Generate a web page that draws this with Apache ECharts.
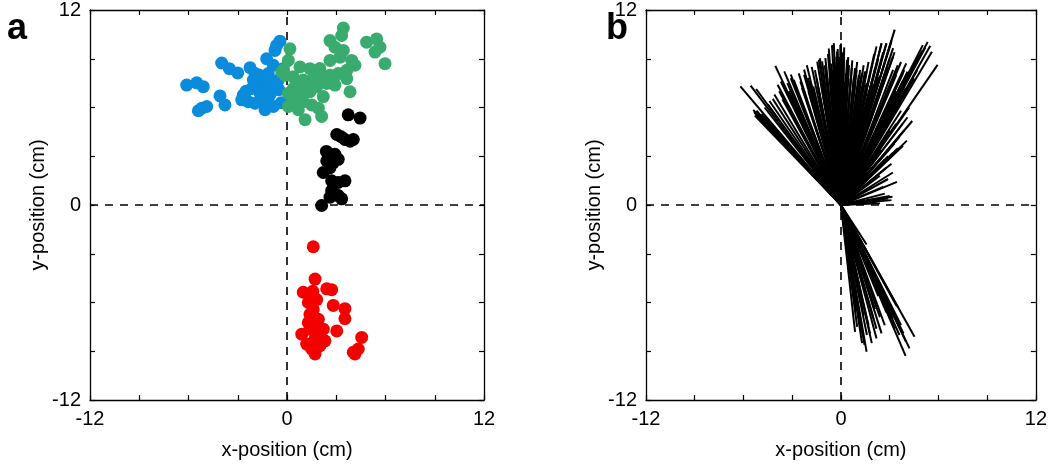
<!DOCTYPE html>
<html>
<head>
<meta charset="utf-8">
<script src="https://cdn.jsdelivr.net/npm/echarts@6/dist/echarts.min.js"></script>
<style>
html,body{margin:0;padding:0;background:#fff;}
#chart{width:1050px;height:465px;}
</style>
</head>
<body>
<div id="chart"></div>
<script>
// ---------- DATA ----------
const tickLabelValues = [-12, 0, 12];
const panelLabels = ['a', 'b'];
const xTitle = 'x-position (cm)';
const yTitle = 'y-position (cm)';

const bluePts = [
  [-6.11,7.38],[-5.50,7.52],[-5.10,7.28],[-3.98,8.74],[-3.51,8.39],[-3.00,8.13],
  [-5.19,5.96],[-4.89,6.06],[-5.40,5.80],[-4.08,6.71],[-3.78,6.16],[-2.25,8.45],[-1.95,8.09],
  [-2.66,6.77],[-2.76,6.47],[-2.36,6.36],[-1.95,6.26],[-1.85,7.28],[-1.44,7.69],
  [-1.14,8.09],[-1.24,9.00],[-0.73,9.51],[-0.43,10.08],[-0.63,9.82],[-0.83,8.60],
  [-0.53,7.69],[-1.04,6.77],[-1.34,5.86],[-0.83,6.06],[-1.44,6.47],[-1.64,6.87],
  [-2.15,7.17],[-0.93,7.48],[-0.23,8.39],[-2.05,7.69],[-2.50,7.00],[-1.70,8.00],
  [-0.35,6.30],[-0.50,7.10],[-1.20,7.20]
];
const greenPts = [
  [3.43,10.89],[3.33,10.43],[2.62,10.12],[2.92,9.71],[3.43,9.51],[3.23,9.10],
  [2.62,8.90],[3.94,8.90],[4.14,8.60],[4.85,10.02],[5.46,10.22],[5.66,9.71],
  [5.36,9.41],[5.97,8.70],[0.18,9.61],[0.79,8.50],[1.40,8.39],[1.81,8.19],
  [0.38,7.89],[-0.23,8.29],[0.99,7.69],[1.60,7.78],[2.21,7.78],[2.62,7.99],
  [3.12,8.09],[3.64,8.29],[2.92,7.38],[2.42,7.48],[3.64,7.78],[0.38,7.17],
  [0.79,6.87],[1.40,6.97],[1.81,7.28],[3.84,6.97],[0.38,6.47],[0.99,6.36],
  [0.08,6.06],[0.69,5.86],[1.50,6.16],[1.91,5.96],[1.10,5.25],[2.11,5.45],
  [0.08,6.87],[2.21,6.67],[2.82,7.58],[-0.12,7.99],[0.08,8.90],[-0.32,8.19],
  [1.20,7.30],[0.60,7.50],[2.00,8.40]
];
const blackPts = [
  [3.73,5.55],[4.45,5.35],[3.03,4.34],[3.53,4.03],[4.04,4.03],[3.84,3.93],
  [2.92,3.12],[2.42,2.71],[2.82,2.61],[3.12,2.81],[2.21,2.00],[2.72,1.49],
  [3.12,1.39],[3.53,1.49],[2.72,0.88],[3.12,0.58],[2.62,0.48],[2.11,-0.03],
  [3.33,0.38],[2.52,2.91],[2.62,2.30],[2.40,3.30],[3.30,4.20]
];
const redPts = [
  [1.60,-2.57],[1.71,-4.56],[0.99,-5.37],[1.57,-5.31],[2.42,-5.16],[2.72,-5.21],
  [1.50,-6.12],[2.82,-6.18],[3.53,-6.38],[3.53,-6.99],[1.40,-6.73],[1.91,-7.03],
  [2.21,-7.64],[3.03,-7.75],[0.90,-7.95],[1.40,-7.64],[1.71,-8.25],[2.31,-8.36],
  [1.50,-8.86],[1.71,-9.17],[2.01,-8.66],[4.55,-8.15],[4.04,-9.06],[4.34,-8.86],
  [4.14,-9.17],[1.30,-7.24],[1.60,-6.43],[1.20,-8.56],[1.81,-5.82],[1.50,-7.40],
  [1.80,-7.90],[1.30,-6.00]
];
// Panel b: vector end points (each drawn from the origin)
const vectorEnds = [
  [-6.19,7.30],[-5.56,7.34],[-5.22,7.14],[-5.32,5.68],[-5.35,5.75],[-5.25,5.60],[-5.10,5.55],
  [-5.20,5.80],[-5.00,5.50],[-4.90,5.60],[-5.40,5.85],[-5.30,5.50],[-5.15,5.70],
  [-4.20,6.53],[-4.04,8.56],[-3.49,8.22],[-3.09,7.81],
  [-2.27,8.01],[-2.03,7.81],[-1.46,8.82],[-1.30,9.03],[-0.75,9.63],[-0.55,9.84],
  [-0.28,9.13],[0.00,9.94],[0.16,8.92],[0.37,8.42],[0.87,8.42],[1.18,8.32],[1.48,8.22],
  [1.58,7.51],[1.79,7.10],[2.50,9.94],[2.80,9.94],[3.11,10.14],[3.31,10.79],[3.21,9.13],
  [3.21,8.32],[3.82,8.11],[4.02,8.72],[5.04,9.84],[5.34,10.04],[5.60,9.43],[5.95,8.62],
  [4.39,5.17],[4.06,3.96],[3.82,3.65],[3.11,2.54],[3.45,1.42],[3.17,0.51],[3.11,0.30],
  [2.60,1.12],[2.19,0.20],[2.90,0.40],[2.40,0.10],[2.70,0.70],[3.00,0.55],[2.50,0.35],
  [-3.09,8.03],[-2.27,8.33],[-1.36,8.94],[-1.16,8.84],[-0.96,9.04],[-0.44,9.96],
  [-0.24,9.45],[-0.04,9.85],[0.16,9.35],[0.37,8.94],[0.67,8.43],[0.97,8.33],[1.28,8.13],
  [1.58,8.23],[1.78,8.03],[2.19,9.76],[2.50,9.96],[2.80,9.96],[3.11,10.06],[3.21,9.65],
  [-4.50,6.20],[-3.80,7.00],[-3.60,6.50],[-2.80,7.20],[-2.50,7.60],[-2.00,7.00],[-1.80,8.50],
  [-1.70,7.30],[-1.20,7.50],[-0.90,8.00],[-0.60,8.70],[-0.50,8.30],[-0.10,9.10],[0.10,9.40],
  [0.30,8.10],[0.50,8.60],[0.60,7.80],[0.90,7.60],[1.10,8.00],[1.30,7.30],[1.90,7.60],
  [2.10,8.40],[2.30,9.00],[2.60,9.40],[2.70,8.00],[3.00,9.00],[3.30,9.40],[3.50,8.60],
  [3.70,8.80],[3.90,8.30],[4.20,7.90],[4.40,8.50],[4.60,8.90],[4.80,9.20],[5.00,9.50],
  [5.20,9.70],[5.50,9.80],[4.00,7.20],[3.60,6.40],[3.20,5.60],[4.20,6.00],[3.90,4.60],
  [3.60,4.20],[3.30,3.80],[2.90,3.00],[2.70,2.80],
  [-4.70,6.00],[-4.40,6.40],[-4.10,6.80],[-3.90,7.40],[-3.70,7.60],[-3.30,7.50],[-3.20,7.00],
  [-3.00,6.80],[-2.90,7.70],[-2.60,8.10],[-2.40,7.20],[-2.10,8.60],[-1.90,7.60],[-1.60,8.30],
  [-1.50,7.80],[-1.40,7.20],[-1.00,8.60],[-0.80,9.30],[-0.70,7.80],[-0.40,8.80],[-0.30,8.00],
  [-0.20,9.60],[0.05,8.50],[0.20,9.70],[0.25,7.60],[0.45,9.10],[0.70,8.90],[0.80,7.90],
  [1.00,8.80],[1.20,7.70],[1.40,8.60],[1.60,7.00],[1.70,8.80],[2.00,7.40],[2.05,9.30],
  [2.30,7.90],[2.45,8.70],[2.90,8.50],[3.10,7.60],[3.40,8.00],[3.40,7.00],[3.80,7.60],
  [4.10,8.20],[4.50,7.80],[4.70,8.30],[3.70,5.80],[3.40,5.00],[3.00,4.60],[4.10,5.40],
  [3.80,5.00],[3.50,3.50],[3.20,3.20],[2.50,3.40],[2.80,2.30],[3.20,2.00],[2.90,1.60],
  [2.40,1.80],[2.20,2.60],[1.90,3.40],
  [1.58,-2.43],[0.87,-7.81],[1.58,-9.03],[2.19,-8.22],[2.19,-7.61],[3.51,-6.29],
  [3.98,-9.29],[4.22,-8.82],[4.53,-8.11],[3.41,-6.19],[1.18,-7.20],[1.79,-7.91],[3.00,-6.10],
  [1.00,-7.50],[1.30,-8.50],[1.60,-8.00],[1.90,-8.50],[2.00,-7.00],[2.50,-7.90],[2.70,-7.40],
  [3.20,-7.00],[3.70,-7.40],[4.00,-8.40],[1.10,-3.00],
  [1.40,-6.80],[1.70,-7.40],[2.10,-6.40],[2.40,-6.90],[2.80,-6.60],[3.10,-6.70],[3.30,-7.60],
  [3.60,-8.00],[3.85,-7.90],[1.20,-6.00],[1.50,-5.50],[2.30,-5.60],[2.60,-5.80],[0.95,-6.50],
  [1.25,-7.90],[1.45,-8.60]
];

// ---------- CHART ----------
const chart = echarts.init(document.getElementById('chart'));
const FONT = 'Liberation Sans, Arial, sans-serif';
const gridW = 394, gridH = 394, gridTop = 7.5;
const grids = [
  {left: 90, top: gridTop, width: gridW, height: gridH},
  {left: 646, top: gridTop, width: gridW, height: gridH}
];
const lbl = v => (tickLabelValues.indexOf(v) >= 0 ? String(v) : '');

function axisBase(type, gi, pos, withLabel) {
  const a = {
    type: 'value', gridIndex: gi, position: pos, min: -12, max: 12, interval: 3,
    axisLine: {show: true, onZero: false, lineStyle: {color: '#000', width: 1.3}},
    axisTick: {show: true, inside: true, length: 5, lineStyle: {color: '#000', width: 1.2}},
    splitLine: {show: false},
    axisLabel: {show: withLabel, formatter: lbl, color: '#000', fontSize: 20,
                fontFamily: FONT, margin: 9, showMinLabel: true, showMaxLabel: true}
  };
  if (withLabel) {
    a.name = type === 'x' ? xTitle : yTitle;
    a.nameLocation = 'middle';
    a.nameGap = type === 'x' ? 40 : 31;
    a.nameTextStyle = {color: '#000', fontSize: 20, fontFamily: FONT};
  }
  return a;
}

const xAxes = [
  axisBase('x', 0, 'bottom', true), axisBase('x', 0, 'top', false),
  axisBase('x', 1, 'bottom', true), axisBase('x', 1, 'top', false)
];
const yAxes = [
  axisBase('y', 0, 'left', true), axisBase('y', 0, 'right', false),
  axisBase('y', 1, 'left', true), axisBase('y', 1, 'right', false)
];

const zeroLines = (xi, yi) => ({
  type: 'line', xAxisIndex: xi, yAxisIndex: yi, data: [], z: 1, silent: true,
  markLine: {
    silent: true, symbol: 'none', z: 1,
    label: {show: false},
    lineStyle: {color: '#000', width: 1.6, type: [8, 7]},
    emphasis: {disabled: true},
    data: [{xAxis: 0}, {yAxis: 0}]
  }
});

const scatter = (pts, color) => ({
  type: 'scatter', xAxisIndex: 0, yAxisIndex: 0, data: pts, symbolSize: 13, z: 3,
  itemStyle: {color: color, opacity: 1}, emphasis: {disabled: true}
});

chart.setOption({
  animation: false,
  backgroundColor: '#fff',
  textStyle: {fontFamily: FONT},
  title: [
    {text: panelLabels[0], left: 2, top: 6, textStyle: {fontSize: 36, fontWeight: 'bold', color: '#000', fontFamily: FONT}},
    {text: panelLabels[1], left: 601, top: 6, textStyle: {fontSize: 36, fontWeight: 'bold', color: '#000', fontFamily: FONT}}
  ],
  grid: grids,
  xAxis: xAxes,
  yAxis: yAxes,
  series: [
    zeroLines(0, 0),
    scatter(bluePts, '#0a8bdc'),
    scatter(greenPts, '#3aab6e'),
    scatter(blackPts, '#000000'),
    scatter(redPts, '#f50000'),
    zeroLines(2, 2),
    {
      type: 'lines', coordinateSystem: 'cartesian2d', xAxisIndex: 2, yAxisIndex: 2,
      polyline: false, z: 3, silent: true,
      lineStyle: {color: '#000', width: 2, opacity: 1},
      data: vectorEnds.map(p => ({coords: [[0, 0], p]}))
    }
  ]
});
</script>
</body>
</html>
